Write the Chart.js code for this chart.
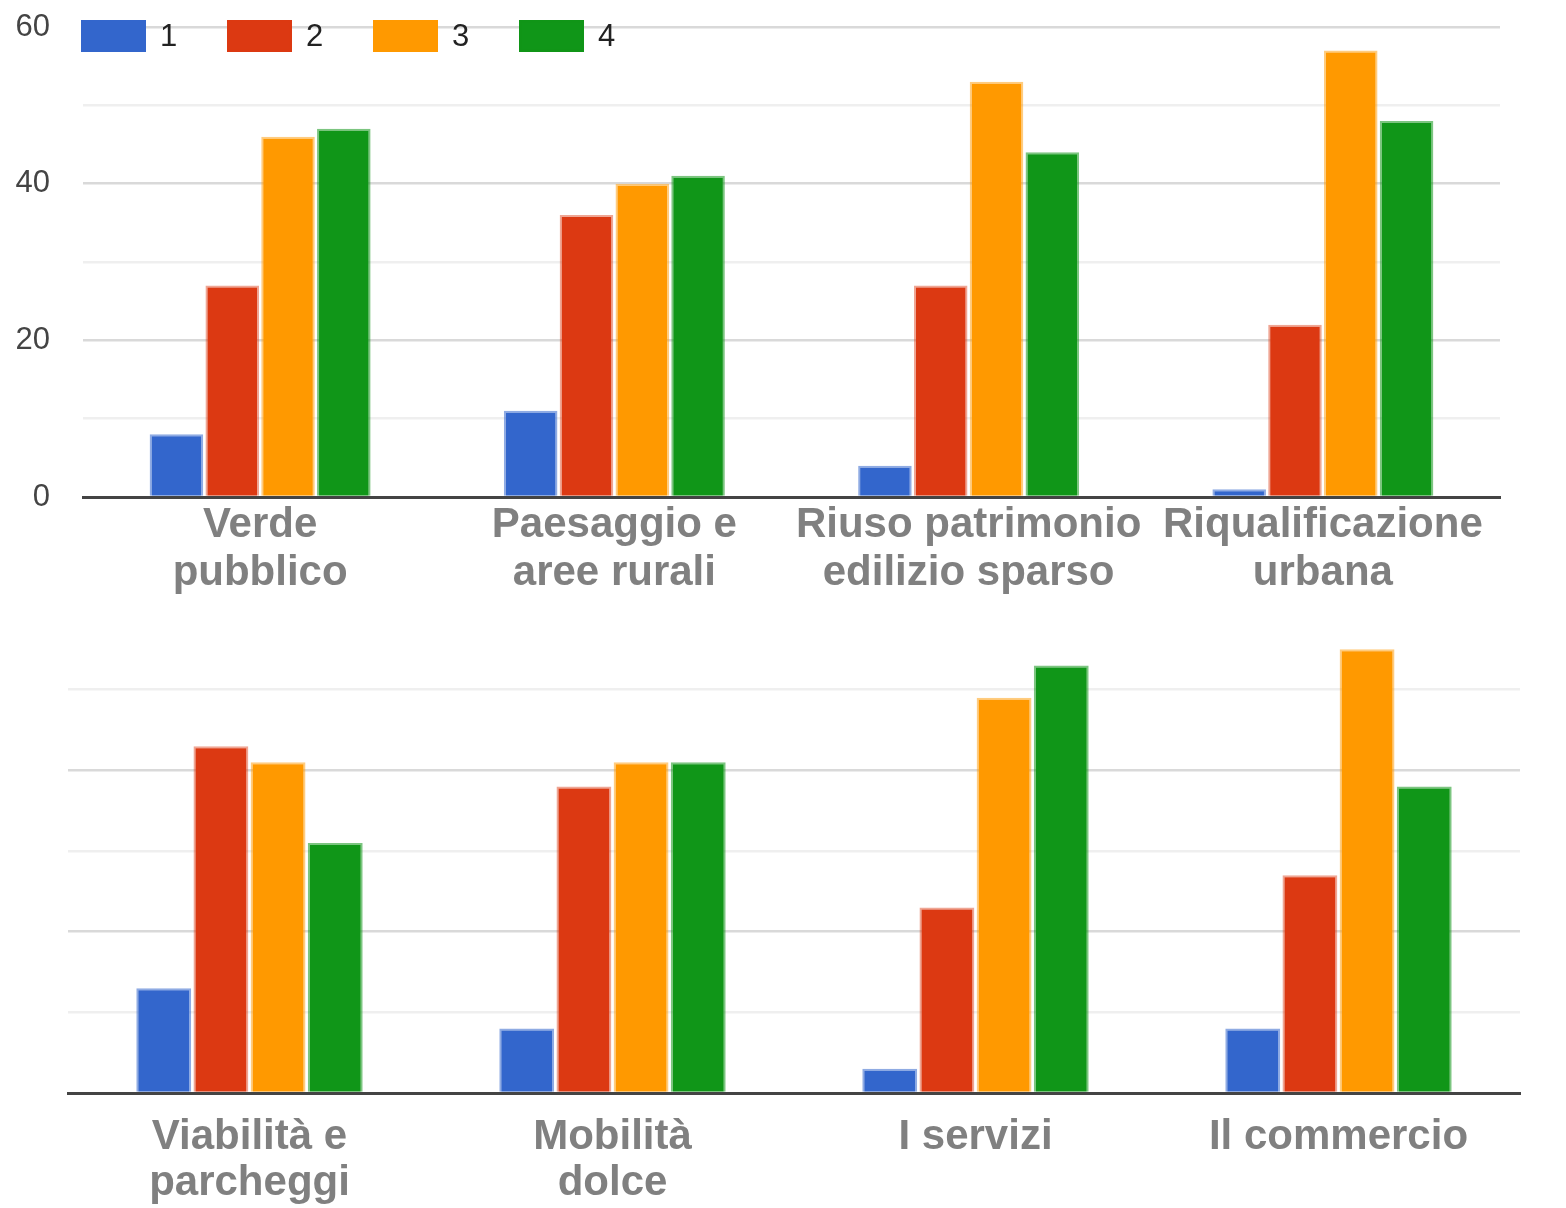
<!DOCTYPE html>
<html><head><meta charset="utf-8">
<script src="https://cdn.jsdelivr.net/npm/chart.js@4.4.1/dist/chart.umd.min.js"></script>
<style>
html,body{margin:0;padding:0;background:#fff;width:1566px;height:1208px;overflow:hidden}
#wrapTop{position:absolute;left:0;top:0;width:1566px;height:605px}
#wrapBottom{position:absolute;left:0;top:605px;width:1566px;height:603px}
#legend{position:absolute;left:81px;top:20px;display:flex;font:31px 'Liberation Sans',Arial,sans-serif;color:#222}
.item{width:146px;display:flex;align-items:center;height:32px}
.box{width:65px;height:32px;box-sizing:border-box;border:3px solid;margin-right:14px}
</style></head><body>
<div id="wrapTop"><canvas id="c1"></canvas></div>
<div id="legend"></div>
<div id="wrapBottom"><canvas id="c2"></canvas></div>
<script>
// ---- data ----
const seriesNames = ['1', '2', '3', '4'];
const seriesColors = ['#3366cc', '#dc3912', '#ff9900', '#109618'];
const seriesBorders = ['rgba(51,102,204,0.55)', 'rgba(220,57,18,0.45)', 'rgba(255,153,0,0.5)', 'rgba(16,150,24,0.55)'];

const topCategories = [['Verde', 'pubblico'], ['Paesaggio e', 'aree rurali'], ['Riuso patrimonio', 'edilizio sparso'], ['Riqualificazione', 'urbana']];
const topSeries1 = [8, 11, 4, 1];
const topSeries2 = [27, 36, 27, 22];
const topSeries3 = [46, 40, 53, 57];
const topSeries4 = [47, 41, 44, 48];

const bottomCategories = [['Viabilità e', 'parcheggi'], ['Mobilità', 'dolce'], 'I servizi', 'Il commercio'];
const bottomSeries1 = [13, 8, 3, 8];
const bottomSeries2 = [43, 38, 23, 27];
const bottomSeries3 = [41, 41, 49, 55];
const bottomSeries4 = [31, 41, 53, 38];

const yMax = 60;
const yStep = 10;
const yLabelStep = 20;

// ---- legend ----
const legend = document.getElementById('legend');
seriesNames.forEach((n, i) => {
  const it = document.createElement('div'); it.className = 'item';
  const b = document.createElement('span'); b.className = 'box';
  b.style.background = seriesColors[i]; b.style.borderColor = seriesBorders[i];
  const t = document.createElement('span'); t.textContent = n;
  it.appendChild(b); it.appendChild(t); legend.appendChild(it);
});

const FONT = "'Liberation Sans', Arial, sans-serif";

function makeDatasets(arrs, catPct) {
  return arrs.map((d, i) => ({
    label: seriesNames[i], data: d,
    backgroundColor: seriesColors[i], borderColor: seriesBorders[i],
    borderWidth: 2, borderSkipped: 'start',
    barPercentage: 0.96, categoryPercentage: catPct
  }));
}

function gridColor(hideTop) {
  return ctx => {
    const v = ctx.tick.value;
    if (v === 0) return 'rgba(0,0,0,0)';
    if (hideTop && v === yMax) return 'rgba(0,0,0,0)';
    return v % yLabelStep === 0 ? '#d9d9d9' : '#efefef';
  };
}

function makeOptions(isTop) {
  const axisHeight = isTop ? 108 : 115;
  return {
    responsive: true, maintainAspectRatio: false, animation: false,
    layout: { padding: isTop ? { top: 27, right: 66, bottom: 0, left: 0 } : { top: 4, right: 46, bottom: 0, left: 68 } },
    plugins: { legend: { display: false }, tooltip: { enabled: false } },
    scales: {
      x: {
        grid: { display: false, drawTicks: false },
        border: { display: true, color: '#444', width: 3 },
        ticks: {
          autoSkip: false, maxRotation: 0, minRotation: 0,
          padding: isTop ? 4 : 21,
          color: '#808080',
          font: { family: FONT, size: 42, weight: 'bold', lineHeight: isTop ? '48px' : '46px' }
        },
        afterFit: s => { s.height = axisHeight; }
      },
      y: {
        min: 0, max: yMax,
        grid: { color: gridColor(!isTop), lineWidth: 2.5, drawTicks: false },
        border: { display: false },
        ticks: {
          display: isTop, stepSize: yStep, padding: 33, color: '#444',
          font: { family: FONT, size: 31 },
          callback: v => (v % yLabelStep === 0 ? String(v) : '')
        },
        afterFit: isTop
          ? (s => { s.width = 83; s.paddingTop = 0; s.paddingBottom = 0; })
          : (s => { s.width = 0; s.paddingTop = 0; s.paddingBottom = 0; })
      }
    }
  };
}

new Chart(document.getElementById('c1'), {
  type: 'bar',
  data: { labels: topCategories, datasets: makeDatasets([topSeries1, topSeries2, topSeries3, topSeries4], 0.63) },
  options: makeOptions(true)
});
new Chart(document.getElementById('c2'), {
  type: 'bar',
  data: { labels: bottomCategories, datasets: makeDatasets([bottomSeries1, bottomSeries2, bottomSeries3, bottomSeries4], 0.63) },
  options: makeOptions(false)
});
</script>
</body></html>
